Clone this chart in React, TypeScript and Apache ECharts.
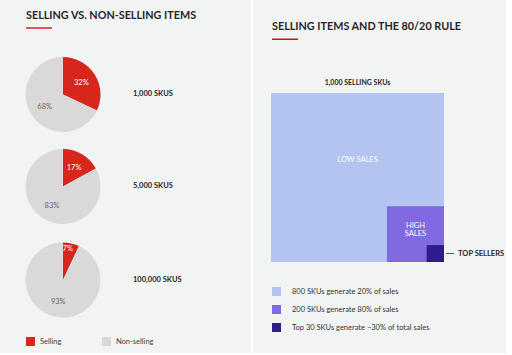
import React, { useEffect, useRef } from "react";
import * as echarts from "echarts";

const pieCategories = ["Selling", "Non-selling"];
const pieGroups = ["1,000 SKUS", "5,000 SKUS", "100,000 SKUS"];
const sellingPct = [32, 17, 7];
const nonSellingPct = [68, 83, 93];

const squareNames = [
  "800 SKUs generate 20% of sales",
  "200 SKUs generate 80% of sales",
  "Top 30 SKUs generate ~30% of total sales",
];
const squareLabels = ["LOW SALES", "HIGH\nSALES", "TOP SELLERS"];
const squareSides = [100, 33, 10];
const squareTitle = "1,000 SELLING SKUs";

const PIE_COLORS = ["#d8261d", "#d9d9d9"];
const SQ_COLORS = ["#b3c4f1", "#8069e1", "#2f1a8e"];
const FONT = "Lato";
const DARK = "#262626";

export default function App() {
  const ref = useRef<HTMLDivElement>(null);
  useEffect(() => {
    document.body.style.margin = "0";
    const chart = echarts.init(ref.current!, null, { renderer: "svg" });
    const pieCentersY = [94.5, 186.5, 280];

    const pieSeries = pieGroups.map((g, i) => ({
      type: "pie",
      name: g,
      center: [63, pieCentersY[i]],
      radius: 37.5,
      startAngle: 90,
      clockwise: true,
      silent: true,
      label: {
        show: true,
        position: "inside",
        formatter: "{c}%",
        fontFamily: FONT,
        fontSize: 7.5,
      },
      labelLine: { show: false },
      labelLayout: (p: any) =>
        p.dataIndex === 0 && sellingPct[i] < 10 ? { dy: -10 } : {},
      data: [
        {
          name: pieCategories[0],
          value: sellingPct[i],
          itemStyle: { color: PIE_COLORS[0] },
          label: { color: "#ffffff" },
        },
        {
          name: pieCategories[1],
          value: nonSellingPct[i],
          itemStyle: { color: PIE_COLORS[1] },
          label: { color: "#666666" },
        },
      ],
    }));

    const squareSeries = squareNames.map((n, i) => ({
      type: "custom",
      name: n,
      xAxisIndex: 0,
      yAxisIndex: 0,
      itemStyle: { color: SQ_COLORS[i] },
      z: 2 + i,
      data: [[squareSides[i]]],
      renderItem: (params: any, api: any) => {
        const side = api.value(0);
        const tl = api.coord([100 - side, side]);
        const br = api.coord([100, 0]);
        const w = br[0] - tl[0];
        const h = br[1] - tl[1];
        const color = api.visual("color");
        if (i === 2) {
          return {
            type: "group",
            children: [
              {
                type: "rect",
                shape: { x: tl[0], y: tl[1], width: w, height: h },
                style: { fill: color },
              },
              {
                type: "line",
                shape: { x1: br[0] + 2, y1: tl[1] + h / 2, x2: br[0] + 10, y2: tl[1] + h / 2 },
                style: { stroke: "#333", lineWidth: 0.8 },
              },
              {
                type: "text",
                x: br[0] + 14,
                y: tl[1] + h / 2,
                style: {
                  text: squareLabels[i],
                  fill: DARK,
                  font: `bold 7.5px ${FONT}`,
                  verticalAlign: "middle",
                  align: "left",
                },
              },
            ],
          };
        }
        return {
          type: "rect",
          shape: { x: tl[0], y: tl[1], width: w, height: h },
          style: { fill: color },
          textContent: {
            style: {
              text: squareLabels[i],
              fill: "#ffffff",
              font: `7.5px ${FONT}`,
              align: "center",
              lineHeight: 8,
            },
          },
          textConfig: {
            position: i === 0 ? ["50%", "37%"] : ["50%", "28%"],
          },
        };
      },
    }));

    chart.setOption({
      animation: false,
      backgroundColor: "#ffffff",
      graphic: [
        { type: "rect", shape: { x: 0, y: 0, width: 251, height: 353 }, style: { fill: "#f2f3f3" }, z: -10 },
        { type: "rect", shape: { x: 253, y: 0, width: 253, height: 353 }, style: { fill: "#f2f3f3" }, z: -10 },
        { type: "rect", shape: { x: 26, y: 27, width: 26, height: 2 }, style: { fill: "#e05555" } },
        { type: "rect", shape: { x: 272, y: 38.5, width: 26, height: 1.5 }, style: { fill: "#d0121b" } },
      ],
      title: [
        {
          text: "SELLING VS. NON-SELLING ITEMS",
          left: 26,
          top: 9,
          padding: 0,
          textStyle: { fontFamily: FONT, fontWeight: "bold", fontSize: 10.8, color: DARK },
        },
        {
          text: "SELLING ITEMS AND THE 80/20 RULE",
          left: 272,
          top: 20,
          padding: 0,
          textStyle: { fontFamily: FONT, fontWeight: "bold", fontSize: 10.8, color: DARK },
        },
        ...pieGroups.map((g, i) => ({
          text: g,
          left: 133,
          top: pieCentersY[i] - 5,
          padding: 0,
          textStyle: { fontFamily: FONT, fontWeight: "bold", fontSize: 7.5, color: DARK },
        })),
      ],
      legend: [
        {
          data: [pieCategories[0]],
          left: 26,
          top: 337,
          padding: 0,
          icon: "rect",
          itemWidth: 9,
          itemHeight: 9,
          textStyle: { fontFamily: FONT, fontSize: 7.5, color: "#444" },
        },
        {
          data: [pieCategories[1]],
          left: 102,
          top: 337,
          padding: 0,
          icon: "rect",
          itemWidth: 9,
          itemHeight: 9,
          textStyle: { fontFamily: FONT, fontSize: 7.5, color: "#444" },
        },
        {
          data: squareNames,
          orient: "vertical",
          left: 272,
          top: 287,
          padding: 0,
          icon: "rect",
          itemWidth: 9,
          itemHeight: 9,
          itemGap: 9,
          textStyle: { fontFamily: FONT, fontSize: 7.5, color: "#333", padding: [0, 0, 0, 6] },
        },
      ],
      grid: { left: 271, top: 93, width: 173, height: 169 },
      xAxis: {
        type: "value",
        min: 0,
        max: 100,
        position: "top",
        name: squareTitle,
        nameLocation: "middle",
        nameGap: 8,
        nameTextStyle: { fontFamily: FONT, fontSize: 7, fontWeight: "bold", color: DARK },
        axisLine: { show: false },
        axisTick: { show: false },
        axisLabel: { show: false },
        splitLine: { show: false },
      },
      yAxis: {
        type: "value",
        min: 0,
        max: 100,
        show: false,
      },
      series: [...pieSeries, ...squareSeries],
    });
    return () => chart.dispose();
  }, []);
  return (
    <div
      ref={ref}
      style={{ position: "fixed", left: 0, top: 0, width: 512, height: 355 }}
    />
  );
}
